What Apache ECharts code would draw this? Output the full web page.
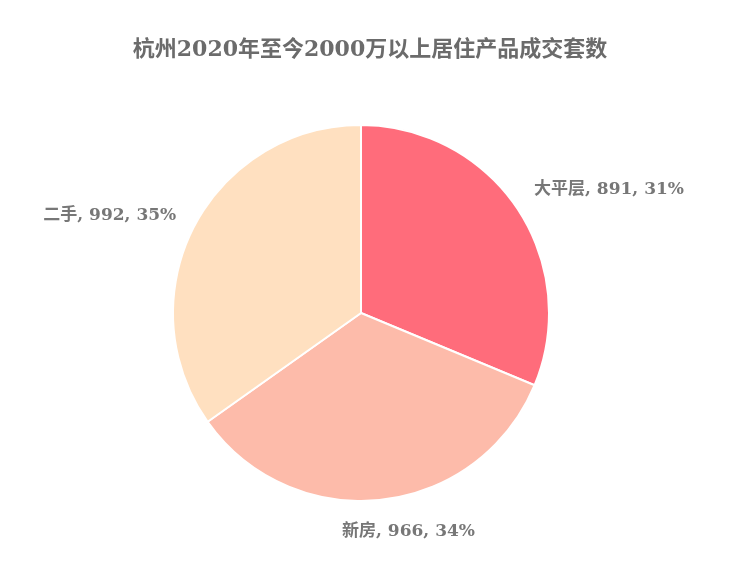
<!DOCTYPE html>
<html><head><meta charset="utf-8">
<script src="https://cdn.jsdelivr.net/npm/echarts@6/dist/echarts.min.js"></script>
<style>html,body{margin:0;padding:0;background:#fff}#c{width:740px;height:583px}</style>
</head><body><div id="c"></div>
<script>
const categories = ['大平层', '新房', '二手'];
const values = [891, 966, 992];
const colors = ['#FF6C7B', '#FDBBAA', '#FFE0C0'];
const titleText = '杭州2020年至今2000万以上居住产品成交套数';

const chart = echarts.init(document.getElementById('c'));
const font = '"DejaVu Serif", "Noto Sans CJK SC", serif';
const cx = 361, cy = 313, r = 188;
const total = values.reduce((a, b) => a + b, 0);
const midAngles = [];
let acc = 90;
values.forEach(v => { const sweep = v / total * 360; midAngles.push(acc - sweep / 2); acc -= sweep; });
// label layout tweaks (pixels)
const labelR = 208;
const labelShift = [[0, -8], [23, 0], [0, -2]];

chart.setOption({
  animation: false,
  title: {
    text: titleText, left: 'center', top: 34,
    textStyle: { fontFamily: font, fontSize: 22, fontWeight: 'bold', color: '#6b6b6b' }
  },
  series: [{
    type: 'pie',
    center: [cx, cy],
    radius: r,
    startAngle: 90,
    clockwise: true,
    percentPrecision: 0,
    data: categories.map((n, i) => ({ name: n, value: values[i], itemStyle: { color: colors[i] } })),
    itemStyle: { borderColor: '#fff', borderWidth: 2 },
    label: {
      show: true, position: 'outside', formatter: '{b}, {c}, {d}%',
      fontFamily: font, fontSize: 17, fontWeight: 'bold', color: '#777'
    },
    labelLine: { show: false, length: 18, length2: 6 },
    labelLayout: function (p) {
      const i = p.dataIndex;
      const a = midAngles[i] * Math.PI / 180;
      const c = Math.cos(a), s = Math.sin(a);
      const rr = Math.abs(c) < 0.3 ? 220 : labelR;
      return {
        x: cx + rr * c + labelShift[i][0],
        y: cy - rr * s + labelShift[i][1],
        align: c > 0.3 ? 'left' : (c < -0.3 ? 'right' : 'center'),
        verticalAlign: 'middle'
      };
    }
  }]
});
</script></body></html>
